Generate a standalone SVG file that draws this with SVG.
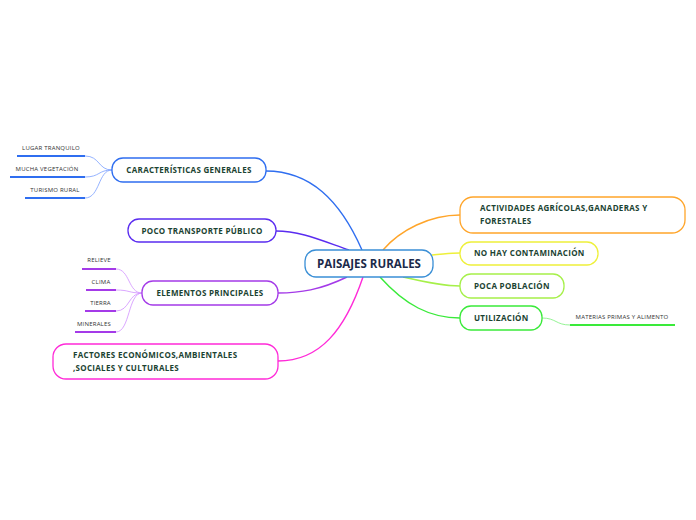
<svg xmlns="http://www.w3.org/2000/svg" width="696" height="520" viewBox="0 0 696 520">
<style>
.n{fill:#fff;stroke-width:1.3}
.t{font-family:"Open Sans",sans-serif;font-weight:bold;font-size:8px;fill:#1b4332;letter-spacing:0.3px}
.s{font-family:"Open Sans",sans-serif;font-size:6px;fill:#333;letter-spacing:0.2px}
.c{fill:none;stroke-width:1.4}
.u{stroke-width:2}
</style>
<rect width="696" height="520" fill="#fff"/>
<g id="connectors">
<path class="c" stroke="#2f6ef0" d="M362,250 C340,200 310,171 266,171"/>
<path class="c" stroke="#5a2cf0" d="M349,250 C320,240 300,231 276,231"/>
<path class="c" stroke="#a43ae8" d="M347,277 C320,290 300,293 278,293"/>
<path class="c" stroke="#ff2ad8" d="M363,277 C345,330 320,361 278,361"/>
<path class="c" stroke="#ffa52a" d="M383,250 C400,230 430,215 460,215"/>
<path class="c" stroke="#eef03a" d="M432,255 C445,254 450,253 460,253"/>
<path class="c" stroke="#a6f04a" d="M403,277 C430,283 445,286 460,286"/>
<path class="c" stroke="#3aea3a" d="M380,277 C405,305 430,318 460,318"/>
<g stroke="#7aa0ff" fill="none" stroke-width="0.8">
<path d="M85,156 C100,156 98,170 112,170"/>
<path d="M85,177 C100,177 98,170 112,170"/>
<path d="M85,198 C100,198 98,170 112,170"/>
</g>
<g stroke="#d090ff" fill="none" stroke-width="0.8">
<path d="M116,269 C130,269 128,293 142,293"/>
<path d="M116,290 C130,290 128,293 142,293"/>
<path d="M116,311 C130,311 128,293 142,293"/>
<path d="M116,332 C130,332 128,293 142,293"/>
</g>
<path stroke="#7af07a" fill="none" stroke-width="0.8" d="M542,318 C556,318 556,325 570,325"/>
</g>
<g id="center">
<rect class="n" x="305" y="250" width="128" height="27" rx="11" stroke="#3a8fd6"/>
<text x="369" y="267.5" text-anchor="middle" font-family="Open Sans,sans-serif" font-weight="bold" font-size="11.5" fill="#1b2a4a">PAISAJES RURALES</text>
</g>
<g id="caracteristicas">
<rect class="n" x="112" y="158" width="154" height="24" rx="11" stroke="#2f6ef0"/>
<text class="t" x="189" y="173" text-anchor="middle">CARACTERÍSTICAS GENERALES</text>
</g>
<g id="lugar">
<text class="s" x="51" y="150" text-anchor="middle">LUGAR TRANQUILO</text>
<line class="u" x1="17" y1="156" x2="85" y2="156" stroke="#2f6ef0"/>
</g>
<g id="mucha">
<text class="s" x="47" y="171" text-anchor="middle">MUCHA VEGETACIÓN</text>
<line class="u" x1="10" y1="177" x2="85" y2="177" stroke="#2f6ef0"/>
</g>
<g id="turismo">
<text class="s" x="55" y="192" text-anchor="middle">TURISMO RURAL</text>
<line class="u" x1="25" y1="198" x2="85" y2="198" stroke="#2f6ef0"/>
</g>
<g id="transporte">
<rect class="n" x="128" y="219" width="148" height="23" rx="11" stroke="#5a2cf0"/>
<text class="t" x="202" y="233.5" text-anchor="middle">POCO TRANSPORTE PÚBLICO</text>
</g>
<g id="elementos">
<rect class="n" x="142" y="281" width="136" height="24" rx="11" stroke="#a43ae8"/>
<text class="t" x="210" y="296" text-anchor="middle">ELEMENTOS PRINCIPALES</text>
</g>
<g id="relieve">
<text class="s" x="99" y="262" text-anchor="middle">RELIEVE</text>
<line class="u" x1="82" y1="269" x2="116" y2="269" stroke="#a43ae8"/>
</g>
<g id="clima">
<text class="s" x="101" y="284" text-anchor="middle">CLIMA</text>
<line class="u" x1="86" y1="290" x2="116" y2="290" stroke="#a43ae8"/>
</g>
<g id="tierra">
<text class="s" x="100.5" y="305" text-anchor="middle">TIERRA</text>
<line class="u" x1="85" y1="311" x2="116" y2="311" stroke="#a43ae8"/>
</g>
<g id="minerales">
<text class="s" x="94" y="326" text-anchor="middle">MINERALES</text>
<line class="u" x1="75" y1="332" x2="116" y2="332" stroke="#a43ae8"/>
</g>
<g id="factores">
<rect class="n" x="53" y="344" width="225" height="35" rx="13" stroke="#ff2ad8"/>
<text class="t" x="73" y="358">FACTORES ECONÓMICOS,AMBIENTALES</text>
<text class="t" x="73" y="371">,SOCIALES Y CULTURALES</text>
</g>
<g id="actividades">
<rect class="n" x="460" y="197" width="225" height="36" rx="13" stroke="#ffa52a"/>
<text class="t" x="480" y="211">ACTIVIDADES AGRÍCOLAS,GANADERAS Y</text>
<text class="t" x="480" y="224">FORESTALES</text>
</g>
<g id="contaminacion">
<rect class="n" x="460" y="242" width="138" height="23" rx="11" stroke="#eef03a"/>
<text class="t" x="474" y="256">NO HAY CONTAMINACIÓN</text>
</g>
<g id="poblacion">
<rect class="n" x="460" y="274" width="104" height="24" rx="11" stroke="#a6f04a"/>
<text class="t" x="474" y="289">POCA POBLACIÓN</text>
</g>
<g id="utilizacion">
<rect class="n" x="460" y="306" width="82" height="24" rx="11" stroke="#3aea3a"/>
<text class="t" x="474" y="321">UTILIZACIÓN</text>
</g>
<g id="materias">
<text class="s" x="622" y="319" text-anchor="middle">MATERIAS PRIMAS Y ALIMENTO</text>
<line class="u" x1="570" y1="325" x2="675" y2="325" stroke="#3aea3a"/>
</g>
</svg>
